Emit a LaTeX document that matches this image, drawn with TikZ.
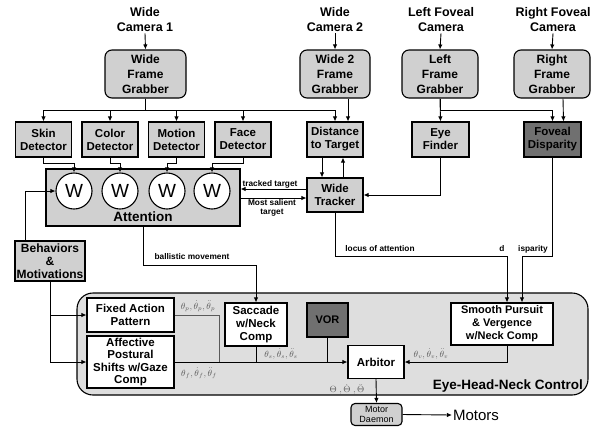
\documentclass[tikz,border=0pt]{standalone}
\usepackage{fontspec}
\setmainfont{Liberation Sans}
\usepackage{amsmath}
\usetikzlibrary{arrows.meta, positioning, calc}

\definecolor{boxgray}{RGB}{208,208,208}
\definecolor{panelgray}{RGB}{222,222,222}
\definecolor{darkbox}{RGB}{112,112,112}
\definecolor{thgray}{RGB}{90,90,90}

\tikzset{
  arr/.style={-{Latex[length=5pt,width=4.5pt]}, line width=0.9pt},
  ln/.style={line width=0.9pt},
  cam/.style={align=center, inner sep=1pt, font=\fontsize{12.5}{15}\selectfont\bfseries},
  grab/.style={draw, line width=1.1pt, rounded corners=7pt, fill=boxgray, align=center,
    minimum width=76pt, minimum height=48pt, inner sep=1pt, font=\fontsize{12}{15}\selectfont\bfseries},
  det/.style={draw, line width=1.1pt, fill=boxgray, align=center, minimum width=56pt,
    minimum height=35pt, inner sep=1pt, font=\fontsize{11.5}{13}\selectfont\bfseries},
  wbox/.style={draw, line width=1.1pt, fill=white, align=center, inner sep=1pt,
    font=\fontsize{11.5}{13}\selectfont\bfseries},
  wcirc/.style={circle, draw, line width=1.1pt, fill=white, minimum size=36pt, inner sep=0pt,
    font=\fontsize{19}{19}\selectfont},
  lab/.style={inner sep=1pt, align=center, font=\fontsize{8.3}{9}\selectfont\bfseries},
  th/.style={inner sep=1pt, text=thgray, font=\fontsize{9}{10}\selectfont},
  big/.style={inner sep=1pt, font=\fontsize{13.5}{15}\selectfont\bfseries}
}

\begin{document}
\begin{tikzpicture}[x=1pt, y=-1pt]
\useasboundingbox (0,0) rectangle (601,426);

% Cameras and frame grabbers
\node[cam] (cam1) at (145,20) {Wide\\Camera 1};
\node[cam] (cam2) at (335,20) {Wide\\Camera 2};
\node[cam] (caml) at (441,20) {Left Foveal\\Camera};
\node[cam] (camr) at (553,20) {Right Foveal\\Camera};
\node[grab, minimum width=81pt] (wfg) at (145.5,74) {Wide\\Frame\\Grabber};
\node[grab, minimum width=70pt] (w2fg) at (335,74) {Wide 2\\Frame\\Grabber};
\node[grab] (lfg) at (440,74) {Left\\Frame\\Grabber};
\node[grab] (rfg) at (552,74) {Right\\Frame\\Grabber};
\foreach \c/\g in {cam1/wfg, cam2/w2fg, caml/lfg, camr/rfg}
  \draw[arr] (\c.south) -- (\g.north);

% Detectors
\foreach \n/\lab/\x in {skin/Skin/43.5, color/Color/110, motion/Motion/176.5, face/Face/243}
  \node[det] (\n) at (\x,139.5) {\lab\\Detector};
\node[det] (dist) at (335,139.5) {Distance\\to Target};
\node[det, minimum width=57pt] (eye) at (440.5,139.5) {Eye\\Finder};
\node[det, minimum width=57pt, fill=darkbox] (fov) at (552.5,139.5) {Foveal\\Disparity};

\foreach \n in {skin, color, motion, face, dist}
  \draw[arr] (wfg.south) -- ++(0,12) -| (\n.north);
\draw[arr] ([xshift=13pt]w2fg.south) -- ([xshift=13pt]dist.north);
\draw[arr] (lfg.south) -- (eye.north);
\draw[arr] (lfg.south) -- ++(0,12) -| (fov.north);
\draw[arr] ([xshift=11pt]rfg.south) -- ([xshift=11pt]fov.north);

% Attention
\node[draw, line width=1.1pt, fill=boxgray, minimum width=194pt, minimum height=57pt] (att) at (143,197.5) {};
\foreach \w/\x in {w1/74, w2/120, w3/167, w4/212}
  \node[wcirc] (\w) at (\x,191) {W};
\node[big] (attlab) at (143,217) {Attention};
\foreach \n/\w in {skin/w1, color/w2, motion/w3, face/w4}
  \draw[arr] (\n.south) -- ++(0,6) -| (\w.north);

% Wide tracker
\node[det, minimum height=34pt] (tracker) at (335,195) {Wide\\Tracker};
\draw[arr] ([xshift=-13pt]dist.south) -- ([xshift=-13pt]tracker.north);
\draw[arr] ([xshift=8pt]tracker.north) -- ([xshift=8pt]dist.south);
\draw[arr] (eye.south) |- (tracker.east);
\coordinate (ttrk) at ([yshift=6pt]tracker.west);
\coordinate (msal) at ([yshift=-3pt]tracker.west);
\draw[arr] (ttrk) -- (ttrk -| att.east);
\draw[arr] (msal -| att.east) -- (msal);
\node[lab, above] (ttlab) at (270,189) {tracked target};
\node[lab, below] (mslab) at (272,198) {Most salient\\target};

% Behaviors
\node[det, minimum width=70pt, minimum height=40pt, font=\fontsize{12}{13}\selectfont\bfseries] (beh) at (50,261) {Behaviors\\\&\\Motivations};
\draw[arr] ([xshift=-25pt]beh.north) |- (w1.west);

% Eye-Head-Neck control
\node[draw, line width=1.1pt, fill=panelgray, rounded corners=16pt, minimum width=511pt, minimum height=102pt] (ehn) at (332.5,344) {};
\node[big, anchor=east] (ehnlab) at (584,386) {Eye-Head-Neck Control};
\node[wbox, minimum width=87pt, minimum height=34pt] (fap) at (130.5,315) {Fixed Action\\Pattern};
\node[wbox, minimum width=87pt, minimum height=52pt, font=\fontsize{11.5}{12.5}\selectfont\bfseries] (aff) at (130.5,362) {Affective\\Postural\\Shifts w/Gaze\\Comp};
\node[wbox, minimum width=62pt, minimum height=43pt] (sacc) at (256,324.5) {Saccade\\w/Neck\\Comp};
\node[wbox, minimum width=41pt, minimum height=34pt, fill=darkbox, font=\fontsize{11}{13}\selectfont\bfseries] (vor) at (327.5,320) {VOR};
\node[wbox, minimum width=56pt, minimum height=33pt] (arb) at (376,362) {Arbitor};
\node[wbox, minimum width=102pt, minimum height=42pt, font=\fontsize{11}{13}\selectfont\bfseries] (sp) at (502,324) {Smooth Pursuit\\\& Vergence\\w/Neck Comp};

\draw[arr] (beh.south) |- (fap.west);
\draw[arr] (beh.south) |- (aff.west);
\coordinate (jfap) at (219,362);
\draw[ln, draw=thgray] (fap.east) -| (jfap);
\draw[arr] (aff.east) -- (arb.west);
\draw[ln] (sacc.south) -- (sacc.south |- arb.west);
\draw[ln] (vor.south) -- (vor.south |- arb.west);
\draw[arr] ([xshift=5pt]sp.south) |- (arb.east);

% Inputs from above
\draw[arr] (att.south) |- ($(sacc.north)+(0,-37)$) -- (sacc.north);
\draw[arr] (tracker.south) |- ($(sp.north)+(5,-46)$) -- ($(sp.north)+(5,0)$);
\draw[arr] (fov.south) |- ($(sp.north)+(20,-46)$) -- ($(sp.north)+(20,0)$);
\node[lab] (ballab) at (192,257) {ballistic movement};
\node[lab] (loclab) at (380,249) {locus of attention};
\node[lab] (dlab) at (502,249) {d};
\node[lab] (displab) at (533,249) {isparity};

% Angle labels
\node[th] (thp) at (198,306) {$\theta_p,\dot{\theta}_p,\ddot{\theta}_p$};
\node[th] (thf) at (199,373) {$\theta_f,\dot{\theta}_f,\ddot{\theta}_f$};
\node[th] (ths) at (281,354) {$\theta_s,\dot{\theta}_s,\ddot{\theta}_s$};
\node[th] (thv) at (431,354) {$\theta_v,\dot{\theta}_v,\ddot{\theta}_v$};
\node[th] (thall) at (347,389) {$\Theta\ ,\dot{\Theta}\ ,\ddot{\Theta}$};

% Motor output
\node[draw, line width=1.1pt, fill=boxgray, rounded corners=4pt, minimum width=51pt, minimum height=22pt,
  inner sep=0pt, align=center, font=\fontsize{9}{10}\selectfont] (motor) at (376.5,414.5) {Motor\\Daemon};
\node[inner sep=1pt, font=\fontsize{15}{15}\selectfont] (motors) at (476,415) {Motors};
\draw[arr] (arb.south) -- (motor.north);
\draw[arr] (motor.east) -- (motors.west);
\end{tikzpicture}
\end{document}
